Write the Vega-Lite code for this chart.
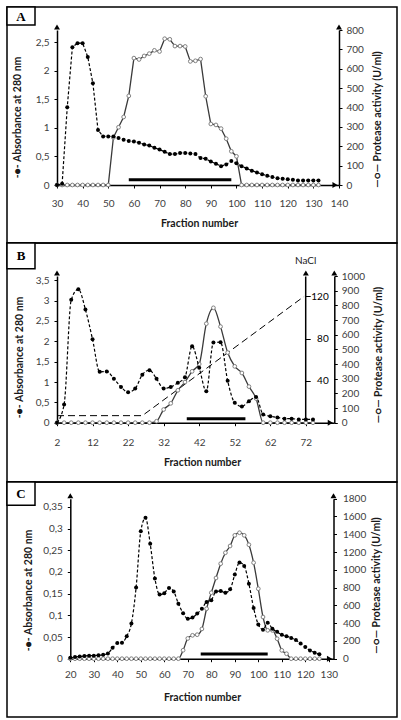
{
  "$schema": "https://vega.github.io/schema/vega-lite/v6.json",
  "background": "white",
  "padding": 5,
  "spacing": 0,
  "bounds": "flush",
  "datasets": {
    "panelA": [
      {"fraction": 30, "absorbance": 0, "protease": 0},
      {"fraction": 32, "absorbance": 0.02, "protease": 0},
      {"fraction": 34, "absorbance": 1.36, "protease": 0},
      {"fraction": 36, "absorbance": 2.41, "protease": 0},
      {"fraction": 38, "absorbance": 2.48, "protease": 0},
      {"fraction": 40, "absorbance": 2.48, "protease": 0},
      {"fraction": 42, "absorbance": 2.24, "protease": 0},
      {"fraction": 44, "absorbance": 1.78, "protease": 0},
      {"fraction": 46, "absorbance": 0.96, "protease": 0},
      {"fraction": 48, "absorbance": 0.85, "protease": 0},
      {"fraction": 50, "absorbance": 0.85, "protease": 0},
      {"fraction": 52, "absorbance": 0.85, "protease": 245},
      {"fraction": 54, "absorbance": 0.82, "protease": 298},
      {"fraction": 56, "absorbance": 0.79, "protease": 351},
      {"fraction": 58, "absorbance": 0.77, "protease": 460},
      {"fraction": 60, "absorbance": 0.76, "protease": 655},
      {"fraction": 62, "absorbance": 0.74, "protease": 648},
      {"fraction": 64, "absorbance": 0.71, "protease": 666},
      {"fraction": 66, "absorbance": 0.69, "protease": 678},
      {"fraction": 68, "absorbance": 0.65, "protease": 695},
      {"fraction": 70, "absorbance": 0.62, "protease": 689},
      {"fraction": 72, "absorbance": 0.58, "protease": 755},
      {"fraction": 74, "absorbance": 0.54, "protease": 752},
      {"fraction": 76, "absorbance": 0.54, "protease": 717},
      {"fraction": 78, "absorbance": 0.56, "protease": 717},
      {"fraction": 80, "absorbance": 0.56, "protease": 715},
      {"fraction": 82, "absorbance": 0.55, "protease": 638},
      {"fraction": 84, "absorbance": 0.54, "protease": 641},
      {"fraction": 86, "absorbance": 0.47, "protease": 650},
      {"fraction": 88, "absorbance": 0.46, "protease": 458},
      {"fraction": 90, "absorbance": 0.41, "protease": 315},
      {"fraction": 92, "absorbance": 0.37, "protease": 310},
      {"fraction": 94, "absorbance": 0.33, "protease": 291},
      {"fraction": 96, "absorbance": 0.36, "protease": 239},
      {"fraction": 98, "absorbance": 0.42, "protease": 174},
      {"fraction": 100, "absorbance": 0.38, "protease": 148},
      {"fraction": 102, "absorbance": 0.33, "protease": 0},
      {"fraction": 104, "absorbance": 0.29, "protease": 0},
      {"fraction": 106, "absorbance": 0.25, "protease": 0},
      {"fraction": 108, "absorbance": 0.22, "protease": 0},
      {"fraction": 110, "absorbance": 0.19, "protease": 0},
      {"fraction": 112, "absorbance": 0.16, "protease": 0},
      {"fraction": 114, "absorbance": 0.14, "protease": 0},
      {"fraction": 116, "absorbance": 0.12, "protease": 0},
      {"fraction": 118, "absorbance": 0.11, "protease": 0},
      {"fraction": 120, "absorbance": 0.1, "protease": 0},
      {"fraction": 122, "absorbance": 0.09, "protease": 0},
      {"fraction": 124, "absorbance": 0.08, "protease": 0},
      {"fraction": 126, "absorbance": 0.08, "protease": 0},
      {"fraction": 128, "absorbance": 0.08, "protease": 0},
      {"fraction": 130, "absorbance": 0.08, "protease": 0},
      {"fraction": 132, "absorbance": 0.08, "protease": 0}
    ],
    "panelB": [
      {"fraction": 2, "absorbance": 0, "protease": 0},
      {"fraction": 4, "absorbance": 0.45, "protease": 0},
      {"fraction": 6, "absorbance": 3.02, "protease": 0},
      {"fraction": 8, "absorbance": 3.28, "protease": 0},
      {"fraction": 10, "absorbance": 2.78, "protease": 0},
      {"fraction": 12, "absorbance": 2.05, "protease": 0},
      {"fraction": 14, "absorbance": 1.25, "protease": 0},
      {"fraction": 16, "absorbance": 1.26, "protease": 0},
      {"fraction": 18, "absorbance": 1.08, "protease": 0},
      {"fraction": 20, "absorbance": 0.88, "protease": 0},
      {"fraction": 22, "absorbance": 0.75, "protease": 0},
      {"fraction": 24, "absorbance": 0.84, "protease": 0},
      {"fraction": 26, "absorbance": 1.18, "protease": 0},
      {"fraction": 28, "absorbance": 1.29, "protease": 0},
      {"fraction": 30, "absorbance": 1.08, "protease": 10},
      {"fraction": 32, "absorbance": 0.84, "protease": 90},
      {"fraction": 34, "absorbance": 0.88, "protease": 132},
      {"fraction": 36, "absorbance": 0.98, "protease": 221},
      {"fraction": 38, "absorbance": 1.12, "protease": 277},
      {"fraction": 40, "absorbance": 1.88, "protease": 350},
      {"fraction": 42, "absorbance": 1.35, "protease": 400},
      {"fraction": 44, "absorbance": 0.77, "protease": 675},
      {"fraction": 46, "absorbance": 1.97, "protease": 783},
      {"fraction": 48, "absorbance": 1.98, "protease": 655},
      {"fraction": 50, "absorbance": 1.03, "protease": 478},
      {"fraction": 52, "absorbance": 0.49, "protease": 384},
      {"fraction": 54, "absorbance": 0.4, "protease": 339},
      {"fraction": 56, "absorbance": 0.53, "protease": 246},
      {"fraction": 58, "absorbance": 0.63, "protease": 165},
      {"fraction": 60, "absorbance": 0.2, "protease": 0},
      {"fraction": 62, "absorbance": 0.16, "protease": 0},
      {"fraction": 64, "absorbance": 0.13, "protease": 0},
      {"fraction": 66, "absorbance": 0.1, "protease": 0},
      {"fraction": 68, "absorbance": 0.1, "protease": 0},
      {"fraction": 70, "absorbance": 0.08, "protease": 0},
      {"fraction": 72, "absorbance": 0.08, "protease": 0},
      {"fraction": 74, "absorbance": 0.08, "protease": 0}
    ],
    "gradientB": [
      {"fraction": 2, "nacl": 6.7},
      {"fraction": 26, "nacl": 6.7},
      {"fraction": 71.5, "nacl": 120}
    ],
    "panelC": [
      {"fraction": 20, "absorbance": 0.002, "protease": 0},
      {"fraction": 22, "absorbance": 0.004, "protease": 0},
      {"fraction": 24, "absorbance": 0.005, "protease": 0},
      {"fraction": 26, "absorbance": 0.006, "protease": 0},
      {"fraction": 28, "absorbance": 0.007, "protease": 0},
      {"fraction": 30, "absorbance": 0.007, "protease": 0},
      {"fraction": 32, "absorbance": 0.008, "protease": 0},
      {"fraction": 34, "absorbance": 0.009, "protease": 0},
      {"fraction": 36, "absorbance": 0.012, "protease": 0},
      {"fraction": 38, "absorbance": 0.025, "protease": 0},
      {"fraction": 40, "absorbance": 0.036, "protease": 0},
      {"fraction": 42, "absorbance": 0.037, "protease": 0},
      {"fraction": 44, "absorbance": 0.052, "protease": 0},
      {"fraction": 46, "absorbance": 0.081, "protease": 0},
      {"fraction": 48, "absorbance": 0.164, "protease": 0},
      {"fraction": 50, "absorbance": 0.294, "protease": 0},
      {"fraction": 52, "absorbance": 0.325, "protease": 0},
      {"fraction": 54, "absorbance": 0.265, "protease": 0},
      {"fraction": 56, "absorbance": 0.185, "protease": 0},
      {"fraction": 58, "absorbance": 0.148, "protease": 0},
      {"fraction": 60, "absorbance": 0.151, "protease": 0},
      {"fraction": 62, "absorbance": 0.163, "protease": 0},
      {"fraction": 64, "absorbance": 0.155, "protease": 0},
      {"fraction": 66, "absorbance": 0.127, "protease": 0},
      {"fraction": 68, "absorbance": 0.105, "protease": 95},
      {"fraction": 70, "absorbance": 0.092, "protease": 228},
      {"fraction": 72, "absorbance": 0.095, "protease": 263},
      {"fraction": 74, "absorbance": 0.104, "protease": 270},
      {"fraction": 76, "absorbance": 0.115, "protease": 335},
      {"fraction": 78, "absorbance": 0.131, "protease": 562},
      {"fraction": 80, "absorbance": 0.135, "protease": 742},
      {"fraction": 82, "absorbance": 0.155, "protease": 908},
      {"fraction": 84, "absorbance": 0.156, "protease": 1069},
      {"fraction": 86, "absorbance": 0.152, "protease": 1192},
      {"fraction": 88, "absorbance": 0.16, "protease": 1268},
      {"fraction": 90, "absorbance": 0.194, "protease": 1388},
      {"fraction": 92, "absorbance": 0.222, "protease": 1417},
      {"fraction": 94, "absorbance": 0.214, "protease": 1388},
      {"fraction": 96, "absorbance": 0.173, "protease": 1282},
      {"fraction": 98, "absorbance": 0.117, "protease": 1080},
      {"fraction": 100, "absorbance": 0.079, "protease": 787},
      {"fraction": 102, "absorbance": 0.067, "protease": 469},
      {"fraction": 104, "absorbance": 0.083, "protease": 319},
      {"fraction": 106, "absorbance": 0.069, "protease": 319},
      {"fraction": 108, "absorbance": 0.062, "protease": 225},
      {"fraction": 110, "absorbance": 0.055, "protease": 94},
      {"fraction": 112, "absorbance": 0.052, "protease": 56},
      {"fraction": 114, "absorbance": 0.048, "protease": 0},
      {"fraction": 116, "absorbance": 0.043, "protease": 0},
      {"fraction": 118, "absorbance": 0.035, "protease": 0},
      {"fraction": 120, "absorbance": 0.027, "protease": 0},
      {"fraction": 122, "absorbance": 0.019, "protease": 0},
      {"fraction": 124, "absorbance": 0.014, "protease": 0},
      {"fraction": 126, "absorbance": 0.01, "protease": 0}
    ]
  },
  "vconcat": [
    {
      "width": 390,
      "height": 236,
      "data": {"name": "panelA"},
      "layer": [
        {"mark": {"type": "line", "color": "#3a3a3a", "strokeWidth": 1.3},
          "encoding": {
            "x": {"field": "fraction", "type": "quantitative", "scale": {"domain": [30, 140], "range": [50, 332], "nice": false, "zero": false},
              "axis": {"orient": "bottom", "offset": -58, "values": [30, 40, 50, 60, 70, 80, 90, 100, 110, 120, 130, 140], "format": "d", "title": "Fraction number", "titleX": 192, "titleY": 38.7, "titleBaseline": "middle", "titleAlign": "center", "labelPadding": 10, "labelFlush": false, "labelOverlap": false}},
            "y": {"field": "protease", "type": "quantitative", "scale": {"domain": [0, 800], "range": [178, 23], "nice": false, "zero": false},
              "axis": {"orient": "right", "offset": -58, "values": [0, 100, 200, 300, 400, 500, 600, 700, 800], "format": "d", "title": "—○—  Protease activity (U/ml)", "titleAngle": 270, "titleX": 38, "titleY": 112, "titleBaseline": "middle", "titleAlign": "center", "labelPadding": 4}}}},
        {"mark": {"type": "point", "shape": "circle", "filled": true, "fill": "white", "stroke": "#808080", "strokeWidth": 1, "size": 14, "opacity": 1},
          "encoding": {
            "x": {"field": "fraction", "type": "quantitative", "scale": {"domain": [30, 140], "range": [50, 332], "nice": false, "zero": false},
              "axis": {"orient": "bottom", "offset": -58, "values": [30, 40, 50, 60, 70, 80, 90, 100, 110, 120, 130, 140], "format": "d", "title": "Fraction number", "titleX": 192, "titleY": 38.7, "titleBaseline": "middle", "titleAlign": "center", "labelPadding": 10, "labelFlush": false, "labelOverlap": false}},
            "y": {"field": "protease", "type": "quantitative", "scale": {"domain": [0, 800], "range": [178, 23], "nice": false, "zero": false}, "axis": null}}},
        {"mark": {"type": "line", "color": "black", "strokeWidth": 1.2, "strokeDash": [3, 2]},
          "encoding": {
            "x": {"field": "fraction", "type": "quantitative", "scale": {"domain": [30, 140], "range": [50, 332], "nice": false, "zero": false},
              "axis": {"orient": "bottom", "offset": -58, "values": [30, 40, 50, 60, 70, 80, 90, 100, 110, 120, 130, 140], "format": "d", "title": "Fraction number", "titleX": 192, "titleY": 38.7, "titleBaseline": "middle", "titleAlign": "center", "labelPadding": 10, "labelFlush": false, "labelOverlap": false}},
            "y": {"field": "absorbance", "type": "quantitative", "scale": {"domain": [0, 2.71], "range": [178, 23], "nice": false, "zero": false},
              "axis": {"orient": "left", "offset": -50, "values": [0, 0.5, 1, 1.5, 2, 2.5], "labelExpr": "replace(format(datum.value, '~g'), '.', ',')", "title": "-●-  Absorbance at 280 nm", "titleX": -40, "titleY": 110, "titleBaseline": "middle", "titleAlign": "center", "labelPadding": 5}}}},
        {"mark": {"type": "point", "filled": true, "color": "black", "size": 16, "opacity": 1},
          "encoding": {
            "x": {"field": "fraction", "type": "quantitative", "scale": {"domain": [30, 140], "range": [50, 332], "nice": false, "zero": false},
              "axis": {"orient": "bottom", "offset": -58, "values": [30, 40, 50, 60, 70, 80, 90, 100, 110, 120, 130, 140], "format": "d", "title": "Fraction number", "titleX": 192, "titleY": 38.7, "titleBaseline": "middle", "titleAlign": "center", "labelPadding": 10, "labelFlush": false, "labelOverlap": false}},
            "y": {"field": "absorbance", "type": "quantitative", "scale": {"domain": [0, 2.71], "range": [178, 23], "nice": false, "zero": false}, "axis": null}}},
        {"data": {"values": [{"start": 58, "end": 98, "level": 0.09}]},
          "mark": {"type": "rule", "color": "black", "strokeWidth": 3},
          "encoding": {
            "x": {"field": "start", "type": "quantitative", "scale": {"domain": [30, 140], "range": [50, 332], "nice": false, "zero": false},
              "axis": {"orient": "bottom", "offset": -58, "values": [30, 40, 50, 60, 70, 80, 90, 100, 110, 120, 130, 140], "format": "d", "title": "Fraction number", "titleX": 192, "titleY": 38.7, "titleBaseline": "middle", "titleAlign": "center", "labelPadding": 10, "labelFlush": false, "labelOverlap": false}},
            "x2": {"field": "end"},
            "y": {"field": "level", "type": "quantitative", "scale": {"domain": [0, 2.71], "range": [178, 23], "nice": false, "zero": false}, "axis": null}}},
        {"data": {"values": [{}]},
          "mark": {"type": "point", "shape": "triangle-up", "filled": true, "color": "black", "size": 35, "opacity": 1, "yOffset": -3},
          "encoding": {
            "x": {"datum": 30, "scale": {"domain": [30, 140], "range": [50, 332], "nice": false, "zero": false},
              "axis": {"orient": "bottom", "offset": -58, "values": [30, 40, 50, 60, 70, 80, 90, 100, 110, 120, 130, 140], "format": "d", "title": "Fraction number", "titleX": 192, "titleY": 38.7, "titleBaseline": "middle", "titleAlign": "center", "labelPadding": 10, "labelFlush": false, "labelOverlap": false}},
            "y": {"datum": 2.71, "scale": {"domain": [0, 2.71], "range": [178, 23], "nice": false, "zero": false}, "axis": null}}},
        {"data": {"values": [{}]},
          "mark": {"type": "point", "shape": "triangle-up", "filled": true, "color": "black", "size": 35, "opacity": 1, "yOffset": -3},
          "encoding": {
            "x": {"datum": 140, "scale": {"domain": [30, 140], "range": [50, 332], "nice": false, "zero": false},
              "axis": {"orient": "bottom", "offset": -58, "values": [30, 40, 50, 60, 70, 80, 90, 100, 110, 120, 130, 140], "format": "d", "title": "Fraction number", "titleX": 192, "titleY": 38.7, "titleBaseline": "middle", "titleAlign": "center", "labelPadding": 10, "labelFlush": false, "labelOverlap": false}},
            "y": {"datum": 2.71, "scale": {"domain": [0, 2.71], "range": [178, 23], "nice": false, "zero": false}, "axis": null}}},
        {"data": {"values": [{}]},
          "mark": {"type": "point", "shape": "triangle-right", "filled": true, "color": "black", "size": 35, "opacity": 1, "xOffset": -4},
          "encoding": {
            "x": {"datum": 140, "scale": {"domain": [30, 140], "range": [50, 332], "nice": false, "zero": false},
              "axis": {"orient": "bottom", "offset": -58, "values": [30, 40, 50, 60, 70, 80, 90, 100, 110, 120, 130, 140], "format": "d", "title": "Fraction number", "titleX": 192, "titleY": 38.7, "titleBaseline": "middle", "titleAlign": "center", "labelPadding": 10, "labelFlush": false, "labelOverlap": false}},
            "y": {"datum": 0, "scale": {"domain": [0, 2.71], "range": [178, 23], "nice": false, "zero": false}, "axis": null}}},
        {"data": {"values": [{"panel": "A"}]},
          "mark": {"type": "rect", "fill": "white", "stroke": "black", "strokeWidth": 1.5},
          "encoding": {
            "x": {"datum": 10.5, "scale": {"domain": [30, 140], "range": [50, 332], "nice": false, "zero": false},
              "axis": {"orient": "bottom", "offset": -58, "values": [30, 40, 50, 60, 70, 80, 90, 100, 110, 120, 130, 140], "format": "d", "title": "Fraction number", "titleX": 192, "titleY": 38.7, "titleBaseline": "middle", "titleAlign": "center", "labelPadding": 10, "labelFlush": false, "labelOverlap": false}},
            "x2": {"datum": 21.42},
            "y": {"datum": 3.112, "scale": {"domain": [0, 2.71], "range": [178, 23], "nice": false, "zero": false}, "axis": null},
            "y2": {"datum": 2.797}}},
        {"data": {"values": [{"panel": "A"}]},
          "mark": {"type": "text", "font": "Liberation Serif", "fontWeight": "bold", "fontSize": 13, "color": "black", "align": "center", "baseline": "middle"},
          "encoding": {
            "x": {"datum": 15.96, "scale": {"domain": [30, 140], "range": [50, 332], "nice": false, "zero": false},
              "axis": {"orient": "bottom", "offset": -58, "values": [30, 40, 50, 60, 70, 80, 90, 100, 110, 120, 130, 140], "format": "d", "title": "Fraction number", "titleX": 192, "titleY": 38.7, "titleBaseline": "middle", "titleAlign": "center", "labelPadding": 10, "labelFlush": false, "labelOverlap": false}},
            "y": {"datum": 2.937, "scale": {"domain": [0, 2.71], "range": [178, 23], "nice": false, "zero": false}, "axis": null},
            "text": {"field": "panel"}}}
      ],
      "resolve": {"scale": {"y": "independent"}}
    },
    {
      "width": 390,
      "height": 239,
      "data": {"name": "panelB"},
      "layer": [
        {"data": {"name": "gradientB"},
          "mark": {"type": "line", "color": "black", "strokeWidth": 1, "strokeDash": [7, 4]},
          "encoding": {
            "x": {"field": "fraction", "type": "quantitative", "scale": {"domain": [2, 80], "range": [50, 327.3], "nice": false, "zero": false},
              "axis": {"orient": "bottom", "offset": -59.3, "values": [2, 12, 22, 32, 42, 52, 62, 72], "format": "d", "title": "Fraction number", "titleX": 195, "titleY": 39.3, "titleBaseline": "middle", "titleAlign": "center", "labelPadding": 12, "labelFlush": false, "labelOverlap": false}},
            "y": {"field": "nacl", "type": "quantitative", "scale": {"domain": [0, 139.4], "range": [179.7, 33], "nice": false, "zero": false},
              "axis": {"orient": "right", "offset": -91.8, "values": [40, 80, 120], "format": "d", "tickSize": 5, "labelAlign": "right", "labelPadding": 18, "labelColor": "black", "title": "NaCl", "titleAngle": 0, "titleX": 0, "titleY": 17.3, "titleAlign": "center", "titleBaseline": "middle", "titleFontWeight": "normal", "titleFontSize": 10}}}},
        {"mark": {"type": "line", "color": "#3a3a3a", "strokeWidth": 1.3, "interpolate": "monotone"},
          "encoding": {
            "x": {"field": "fraction", "type": "quantitative", "scale": {"domain": [2, 80], "range": [50, 327.3], "nice": false, "zero": false},
              "axis": {"orient": "bottom", "offset": -59.3, "values": [2, 12, 22, 32, 42, 52, 62, 72], "format": "d", "title": "Fraction number", "titleX": 195, "titleY": 39.3, "titleBaseline": "middle", "titleAlign": "center", "labelPadding": 12, "labelFlush": false, "labelOverlap": false}},
            "y": {"field": "protease", "type": "quantitative", "scale": {"domain": [0, 1000], "range": [179.7, 33], "nice": false, "zero": false},
              "axis": {"orient": "right", "offset": -62.7, "values": [0, 100, 200, 300, 400, 500, 600, 700, 800, 900, 1000], "format": "d", "title": "—○—  Protease activity (U/ml)", "titleAngle": 270, "titleX": 44, "titleY": 111.5, "titleBaseline": "middle", "titleAlign": "center", "labelPadding": 4}}}},
        {"mark": {"type": "point", "shape": "circle", "filled": true, "fill": "white", "stroke": "#808080", "strokeWidth": 1, "size": 14, "opacity": 1},
          "encoding": {
            "x": {"field": "fraction", "type": "quantitative", "scale": {"domain": [2, 80], "range": [50, 327.3], "nice": false, "zero": false},
              "axis": {"orient": "bottom", "offset": -59.3, "values": [2, 12, 22, 32, 42, 52, 62, 72], "format": "d", "title": "Fraction number", "titleX": 195, "titleY": 39.3, "titleBaseline": "middle", "titleAlign": "center", "labelPadding": 12, "labelFlush": false, "labelOverlap": false}},
            "y": {"field": "protease", "type": "quantitative", "scale": {"domain": [0, 1000], "range": [179.7, 33], "nice": false, "zero": false}, "axis": null}}},
        {"mark": {"type": "line", "color": "black", "strokeWidth": 1.2, "strokeDash": [3, 2], "interpolate": "monotone"},
          "encoding": {
            "x": {"field": "fraction", "type": "quantitative", "scale": {"domain": [2, 80], "range": [50, 327.3], "nice": false, "zero": false},
              "axis": {"orient": "bottom", "offset": -59.3, "values": [2, 12, 22, 32, 42, 52, 62, 72], "format": "d", "title": "Fraction number", "titleX": 195, "titleY": 39.3, "titleBaseline": "middle", "titleAlign": "center", "labelPadding": 12, "labelFlush": false, "labelOverlap": false}},
            "y": {"field": "absorbance", "type": "quantitative", "scale": {"domain": [0, 3.606], "range": [179.7, 33], "nice": false, "zero": false},
              "axis": {"orient": "left", "offset": -50, "values": [0, 0.5, 1, 1.5, 2, 2.5, 3, 3.5], "labelExpr": "replace(format(datum.value, '~g'), '.', ',')", "title": "-●-  Absorbance at 280 nm", "titleX": -38, "titleY": 114, "titleBaseline": "middle", "titleAlign": "center", "labelPadding": 5}}}},
        {"mark": {"type": "point", "filled": true, "color": "black", "size": 16, "opacity": 1},
          "encoding": {
            "x": {"field": "fraction", "type": "quantitative", "scale": {"domain": [2, 80], "range": [50, 327.3], "nice": false, "zero": false},
              "axis": {"orient": "bottom", "offset": -59.3, "values": [2, 12, 22, 32, 42, 52, 62, 72], "format": "d", "title": "Fraction number", "titleX": 195, "titleY": 39.3, "titleBaseline": "middle", "titleAlign": "center", "labelPadding": 12, "labelFlush": false, "labelOverlap": false}},
            "y": {"field": "absorbance", "type": "quantitative", "scale": {"domain": [0, 3.606], "range": [179.7, 33], "nice": false, "zero": false}, "axis": null}}},
        {"data": {"values": [{"start": 38.5, "end": 55, "level": 0.1}]},
          "mark": {"type": "rule", "color": "black", "strokeWidth": 3},
          "encoding": {
            "x": {"field": "start", "type": "quantitative", "scale": {"domain": [2, 80], "range": [50, 327.3], "nice": false, "zero": false},
              "axis": {"orient": "bottom", "offset": -59.3, "values": [2, 12, 22, 32, 42, 52, 62, 72], "format": "d", "title": "Fraction number", "titleX": 195, "titleY": 39.3, "titleBaseline": "middle", "titleAlign": "center", "labelPadding": 12, "labelFlush": false, "labelOverlap": false}},
            "x2": {"field": "end"},
            "y": {"field": "level", "type": "quantitative", "scale": {"domain": [0, 3.606], "range": [179.7, 33], "nice": false, "zero": false}, "axis": null}}},
        {"data": {"values": [{}]},
          "mark": {"type": "point", "shape": "triangle-up", "filled": true, "color": "black", "size": 35, "opacity": 1, "yOffset": -3},
          "encoding": {
            "x": {"datum": 2, "scale": {"domain": [2, 80], "range": [50, 327.3], "nice": false, "zero": false},
              "axis": {"orient": "bottom", "offset": -59.3, "values": [2, 12, 22, 32, 42, 52, 62, 72], "format": "d", "title": "Fraction number", "titleX": 195, "titleY": 39.3, "titleBaseline": "middle", "titleAlign": "center", "labelPadding": 12, "labelFlush": false, "labelOverlap": false}},
            "y": {"datum": 3.606, "scale": {"domain": [0, 3.606], "range": [179.7, 33], "nice": false, "zero": false}, "axis": null}}},
        {"data": {"values": [{}]},
          "mark": {"type": "point", "shape": "triangle-up", "filled": true, "color": "black", "size": 35, "opacity": 1, "yOffset": -3},
          "encoding": {
            "x": {"datum": 72, "scale": {"domain": [2, 80], "range": [50, 327.3], "nice": false, "zero": false},
              "axis": {"orient": "bottom", "offset": -59.3, "values": [2, 12, 22, 32, 42, 52, 62, 72], "format": "d", "title": "Fraction number", "titleX": 195, "titleY": 39.3, "titleBaseline": "middle", "titleAlign": "center", "labelPadding": 12, "labelFlush": false, "labelOverlap": false}},
            "y": {"datum": 3.606, "scale": {"domain": [0, 3.606], "range": [179.7, 33], "nice": false, "zero": false}, "axis": null}}},
        {"data": {"values": [{}]},
          "mark": {"type": "point", "shape": "triangle-up", "filled": true, "color": "black", "size": 35, "opacity": 1, "yOffset": -3},
          "encoding": {
            "x": {"datum": 80, "scale": {"domain": [2, 80], "range": [50, 327.3], "nice": false, "zero": false},
              "axis": {"orient": "bottom", "offset": -59.3, "values": [2, 12, 22, 32, 42, 52, 62, 72], "format": "d", "title": "Fraction number", "titleX": 195, "titleY": 39.3, "titleBaseline": "middle", "titleAlign": "center", "labelPadding": 12, "labelFlush": false, "labelOverlap": false}},
            "y": {"datum": 3.606, "scale": {"domain": [0, 3.606], "range": [179.7, 33], "nice": false, "zero": false}, "axis": null}}},
        {"data": {"values": [{}]},
          "mark": {"type": "point", "shape": "triangle-right", "filled": true, "color": "black", "size": 35, "opacity": 1, "xOffset": -4},
          "encoding": {
            "x": {"datum": 80, "scale": {"domain": [2, 80], "range": [50, 327.3], "nice": false, "zero": false},
              "axis": {"orient": "bottom", "offset": -59.3, "values": [2, 12, 22, 32, 42, 52, 62, 72], "format": "d", "title": "Fraction number", "titleX": 195, "titleY": 39.3, "titleBaseline": "middle", "titleAlign": "center", "labelPadding": 12, "labelFlush": false, "labelOverlap": false}},
            "y": {"datum": 0, "scale": {"domain": [0, 3.606], "range": [179.7, 33], "nice": false, "zero": false}, "axis": null}}},
        {"data": {"values": [{"panel": "B"}]},
          "mark": {"type": "rect", "fill": "white", "stroke": "black", "strokeWidth": 1.5},
          "encoding": {
            "x": {"datum": -12.06, "scale": {"domain": [2, 80], "range": [50, 327.3], "nice": false, "zero": false},
              "axis": {"orient": "bottom", "offset": -59.3, "values": [2, 12, 22, 32, 42, 52, 62, 72], "format": "d", "title": "Fraction number", "titleX": 195, "titleY": 39.3, "titleBaseline": "middle", "titleAlign": "center", "labelPadding": 12, "labelFlush": false, "labelOverlap": false}},
            "x2": {"datum": -4.19},
            "y": {"datum": 4.417, "scale": {"domain": [0, 3.606], "range": [179.7, 33], "nice": false, "zero": false}, "axis": null},
            "y2": {"datum": 3.786}}},
        {"data": {"values": [{"panel": "B"}]},
          "mark": {"type": "text", "font": "Liberation Serif", "fontWeight": "bold", "fontSize": 13, "color": "black", "align": "center", "baseline": "middle"},
          "encoding": {
            "x": {"datum": -8.13, "scale": {"domain": [2, 80], "range": [50, 327.3], "nice": false, "zero": false},
              "axis": {"orient": "bottom", "offset": -59.3, "values": [2, 12, 22, 32, 42, 52, 62, 72], "format": "d", "title": "Fraction number", "titleX": 195, "titleY": 39.3, "titleBaseline": "middle", "titleAlign": "center", "labelPadding": 12, "labelFlush": false, "labelOverlap": false}},
            "y": {"datum": 4.098, "scale": {"domain": [0, 3.606], "range": [179.7, 33], "nice": false, "zero": false}, "axis": null},
            "text": {"field": "panel"}}}
      ],
      "resolve": {"scale": {"y": "independent"}}
    },
    {
      "width": 390,
      "height": 235,
      "data": {"name": "panelC"},
      "layer": [
        {"mark": {"type": "line", "color": "#3a3a3a", "strokeWidth": 1.3, "interpolate": "monotone"},
          "encoding": {
            "x": {"field": "fraction", "type": "quantitative", "scale": {"domain": [20, 132], "range": [63.3, 326.5], "nice": false, "zero": false},
              "axis": {"orient": "bottom", "offset": -58.3, "values": [20, 30, 40, 50, 60, 70, 80, 90, 100, 110, 120, 130], "format": "d", "title": "Fraction number", "titleX": 195, "titleY": 38.3, "titleBaseline": "middle", "titleAlign": "center", "labelPadding": 8, "labelFlush": false, "labelOverlap": false}},
            "y": {"field": "protease", "type": "quantitative", "scale": {"domain": [0, 1800], "range": [176.7, 16.7], "nice": false, "zero": false},
              "axis": {"orient": "right", "offset": -63.5, "values": [0, 200, 400, 600, 800, 1000, 1200, 1400, 1600, 1800], "format": "d", "title": "—○—  Protease activity (U/ml)", "titleAngle": 270, "titleX": 42.5, "titleY": 103, "titleBaseline": "middle", "titleAlign": "center", "labelPadding": 6}}}},
        {"mark": {"type": "point", "shape": "circle", "filled": true, "fill": "white", "stroke": "#808080", "strokeWidth": 1, "size": 14, "opacity": 1},
          "encoding": {
            "x": {"field": "fraction", "type": "quantitative", "scale": {"domain": [20, 132], "range": [63.3, 326.5], "nice": false, "zero": false},
              "axis": {"orient": "bottom", "offset": -58.3, "values": [20, 30, 40, 50, 60, 70, 80, 90, 100, 110, 120, 130], "format": "d", "title": "Fraction number", "titleX": 195, "titleY": 38.3, "titleBaseline": "middle", "titleAlign": "center", "labelPadding": 8, "labelFlush": false, "labelOverlap": false}},
            "y": {"field": "protease", "type": "quantitative", "scale": {"domain": [0, 1800], "range": [176.7, 16.7], "nice": false, "zero": false}, "axis": null}}},
        {"mark": {"type": "line", "color": "black", "strokeWidth": 1.2, "strokeDash": [3, 2], "interpolate": "monotone"},
          "encoding": {
            "x": {"field": "fraction", "type": "quantitative", "scale": {"domain": [20, 132], "range": [63.3, 326.5], "nice": false, "zero": false},
              "axis": {"orient": "bottom", "offset": -58.3, "values": [20, 30, 40, 50, 60, 70, 80, 90, 100, 110, 120, 130], "format": "d", "title": "Fraction number", "titleX": 195, "titleY": 38.3, "titleBaseline": "middle", "titleAlign": "center", "labelPadding": 8, "labelFlush": false, "labelOverlap": false}},
            "y": {"field": "absorbance", "type": "quantitative", "scale": {"domain": [0, 0.369], "range": [176.7, 16.7], "nice": false, "zero": false},
              "axis": {"orient": "left", "offset": -63.3, "values": [0, 0.05, 0.1, 0.15, 0.2, 0.25, 0.3, 0.35], "labelExpr": "replace(format(datum.value, '~g'), '.', ',')", "title": "-●-  Absorbance at 280 nm", "titleX": -42, "titleY": 108, "titleBaseline": "middle", "titleAlign": "center", "labelPadding": 5}}}},
        {"mark": {"type": "point", "filled": true, "color": "black", "size": 16, "opacity": 1},
          "encoding": {
            "x": {"field": "fraction", "type": "quantitative", "scale": {"domain": [20, 132], "range": [63.3, 326.5], "nice": false, "zero": false},
              "axis": {"orient": "bottom", "offset": -58.3, "values": [20, 30, 40, 50, 60, 70, 80, 90, 100, 110, 120, 130], "format": "d", "title": "Fraction number", "titleX": 195, "titleY": 38.3, "titleBaseline": "middle", "titleAlign": "center", "labelPadding": 8, "labelFlush": false, "labelOverlap": false}},
            "y": {"field": "absorbance", "type": "quantitative", "scale": {"domain": [0, 0.369], "range": [176.7, 16.7], "nice": false, "zero": false}, "axis": null}}},
        {"data": {"values": [{"start": 75.5, "end": 104, "level": 0.011}]},
          "mark": {"type": "rule", "color": "black", "strokeWidth": 3},
          "encoding": {
            "x": {"field": "start", "type": "quantitative", "scale": {"domain": [20, 132], "range": [63.3, 326.5], "nice": false, "zero": false},
              "axis": {"orient": "bottom", "offset": -58.3, "values": [20, 30, 40, 50, 60, 70, 80, 90, 100, 110, 120, 130], "format": "d", "title": "Fraction number", "titleX": 195, "titleY": 38.3, "titleBaseline": "middle", "titleAlign": "center", "labelPadding": 8, "labelFlush": false, "labelOverlap": false}},
            "x2": {"field": "end"},
            "y": {"field": "level", "type": "quantitative", "scale": {"domain": [0, 0.369], "range": [176.7, 16.7], "nice": false, "zero": false}, "axis": null}}},
        {"data": {"values": [{}]},
          "mark": {"type": "point", "shape": "triangle-up", "filled": true, "color": "black", "size": 35, "opacity": 1, "yOffset": -3},
          "encoding": {
            "x": {"datum": 20, "scale": {"domain": [20, 132], "range": [63.3, 326.5], "nice": false, "zero": false},
              "axis": {"orient": "bottom", "offset": -58.3, "values": [20, 30, 40, 50, 60, 70, 80, 90, 100, 110, 120, 130], "format": "d", "title": "Fraction number", "titleX": 195, "titleY": 38.3, "titleBaseline": "middle", "titleAlign": "center", "labelPadding": 8, "labelFlush": false, "labelOverlap": false}},
            "y": {"datum": 0.369, "scale": {"domain": [0, 0.369], "range": [176.7, 16.7], "nice": false, "zero": false}, "axis": null}}},
        {"data": {"values": [{}]},
          "mark": {"type": "point", "shape": "triangle-up", "filled": true, "color": "black", "size": 35, "opacity": 1, "yOffset": -3},
          "encoding": {
            "x": {"datum": 132, "scale": {"domain": [20, 132], "range": [63.3, 326.5], "nice": false, "zero": false},
              "axis": {"orient": "bottom", "offset": -58.3, "values": [20, 30, 40, 50, 60, 70, 80, 90, 100, 110, 120, 130], "format": "d", "title": "Fraction number", "titleX": 195, "titleY": 38.3, "titleBaseline": "middle", "titleAlign": "center", "labelPadding": 8, "labelFlush": false, "labelOverlap": false}},
            "y": {"datum": 0.369, "scale": {"domain": [0, 0.369], "range": [176.7, 16.7], "nice": false, "zero": false}, "axis": null}}},
        {"data": {"values": [{}]},
          "mark": {"type": "point", "shape": "triangle-right", "filled": true, "color": "black", "size": 35, "opacity": 1, "xOffset": -4},
          "encoding": {
            "x": {"datum": 132, "scale": {"domain": [20, 132], "range": [63.3, 326.5], "nice": false, "zero": false},
              "axis": {"orient": "bottom", "offset": -58.3, "values": [20, 30, 40, 50, 60, 70, 80, 90, 100, 110, 120, 130], "format": "d", "title": "Fraction number", "titleX": 195, "titleY": 38.3, "titleBaseline": "middle", "titleAlign": "center", "labelPadding": 8, "labelFlush": false, "labelOverlap": false}},
            "y": {"datum": 0, "scale": {"domain": [0, 0.369], "range": [176.7, 16.7], "nice": false, "zero": false}, "axis": null}}},
        {"data": {"values": [{"panel": "C"}]},
          "mark": {"type": "rect", "fill": "white", "stroke": "black", "strokeWidth": 1.5},
          "encoding": {
            "x": {"datum": -6.94, "scale": {"domain": [20, 132], "range": [63.3, 326.5], "nice": false, "zero": false},
              "axis": {"orient": "bottom", "offset": -58.3, "values": [20, 30, 40, 50, 60, 70, 80, 90, 100, 110, 120, 130], "format": "d", "title": "Fraction number", "titleX": 195, "titleY": 38.3, "titleBaseline": "middle", "titleAlign": "center", "labelPadding": 8, "labelFlush": false, "labelOverlap": false}},
            "x2": {"datum": 4.98},
            "y": {"datum": 0.4075, "scale": {"domain": [0, 0.369], "range": [176.7, 16.7], "nice": false, "zero": false}, "axis": null},
            "y2": {"datum": 0.3538}}},
        {"data": {"values": [{"panel": "C"}]},
          "mark": {"type": "text", "font": "Liberation Serif", "fontWeight": "bold", "fontSize": 13, "color": "black", "align": "center", "baseline": "middle"},
          "encoding": {
            "x": {"datum": -0.98, "scale": {"domain": [20, 132], "range": [63.3, 326.5], "nice": false, "zero": false},
              "axis": {"orient": "bottom", "offset": -58.3, "values": [20, 30, 40, 50, 60, 70, 80, 90, 100, 110, 120, 130], "format": "d", "title": "Fraction number", "titleX": 195, "titleY": 38.3, "titleBaseline": "middle", "titleAlign": "center", "labelPadding": 8, "labelFlush": false, "labelOverlap": false}},
            "y": {"datum": 0.3798, "scale": {"domain": [0, 0.369], "range": [176.7, 16.7], "nice": false, "zero": false}, "axis": null},
            "text": {"field": "panel"}}}
      ],
      "resolve": {"scale": {"y": "independent"}}
    }
  ],
  "config": {
    "font": "Lato",
    "view": {"stroke": "black", "strokeWidth": 1.5},
    "axis": {
      "grid": false,
      "domainColor": "black",
      "domainWidth": 1.5,
      "tickColor": "black",
      "tickWidth": 1,
      "tickSize": 3,
      "labelFont": "Lato",
      "labelFontSize": 10,
      "labelColor": "#404040",
      "labelOverlap": false,
      "labelFlush": false,
      "titleFont": "Lato",
      "titleFontSize": 10.5,
      "titleFontWeight": "bold",
      "titleColor": "#1a1a1a"
    }
  }
}
